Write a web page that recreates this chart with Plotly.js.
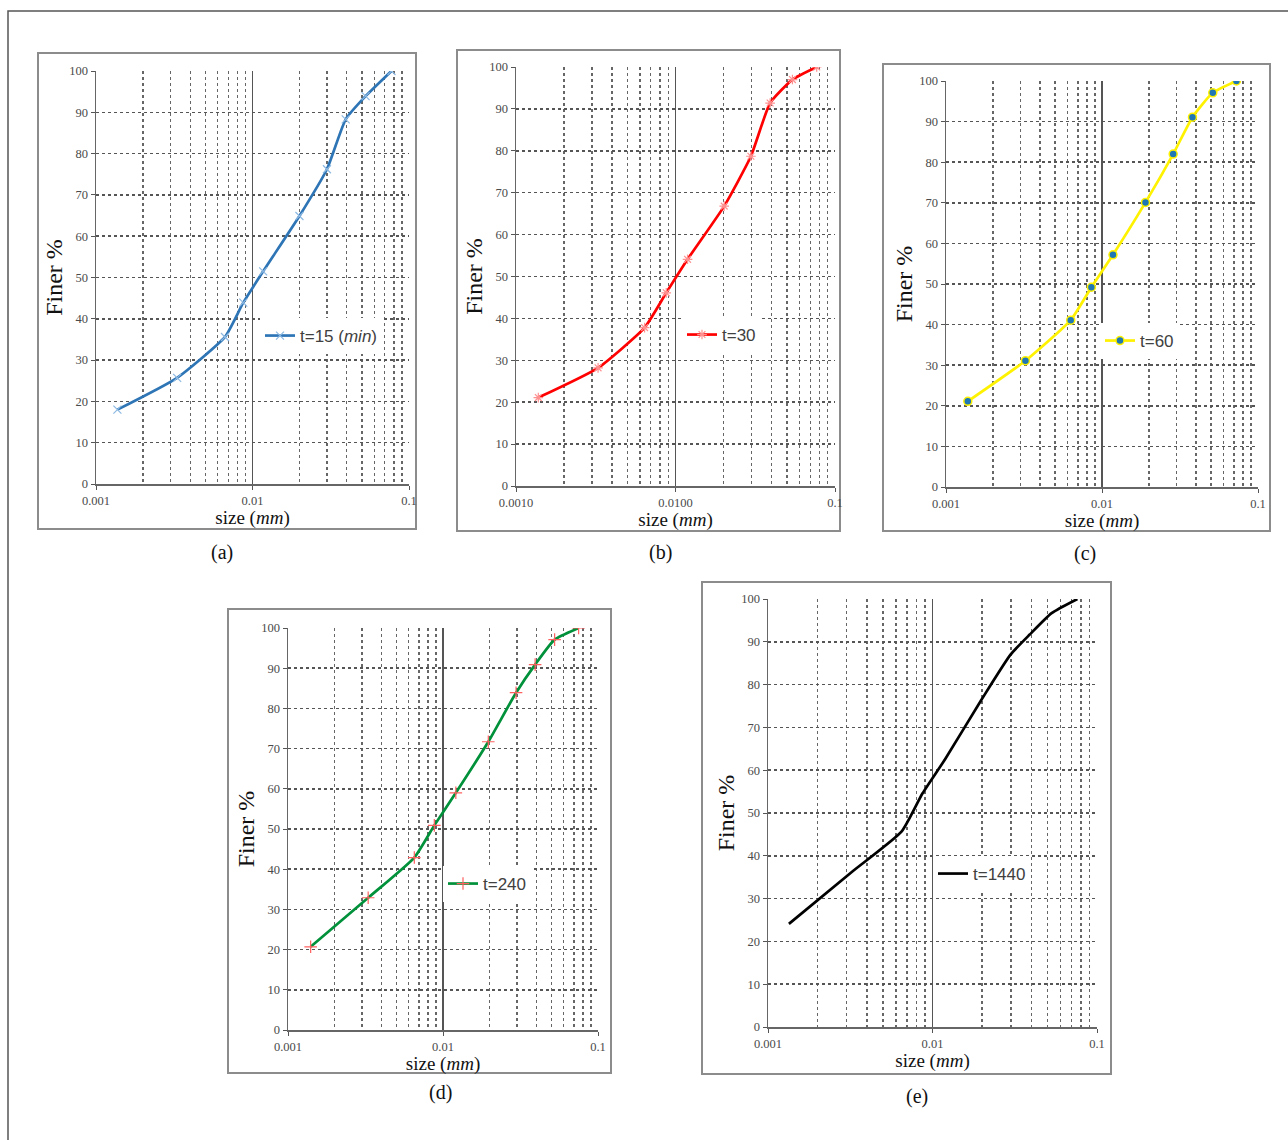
<!DOCTYPE html>
<html>
<head>
<meta charset="utf-8">
<script src="https://cdn.plot.ly/plotly-3.0.1.min.js"></script>
<style>html,body{margin:0;padding:0;background:#fff;}#chart{width:1288px;height:1140px;}</style>
</head>
<body>
<div id="chart"></div>
<script>
// ---------- data ----------
const sizesA = [0.00137, 0.0033, 0.00667, 0.00873, 0.0117, 0.01995, 0.0299, 0.0394, 0.0528, 0.0773];
const finerA = [18.0, 25.7, 35.6, 43.9, 51.5, 64.9, 76.2, 88.3, 93.9, 100];

const sizesB = [0.00138, 0.00327, 0.0064, 0.00875, 0.0119, 0.0202, 0.0297, 0.0392, 0.0541, 0.0768];
const finerB = [21.1, 28.2, 37.8, 46.1, 54.1, 66.8, 78.7, 91.4, 97.0, 100];

const sizesC = [0.00138, 0.00323, 0.0063, 0.00855, 0.01176, 0.019, 0.0286, 0.038, 0.0513, 0.0727];
const finerC = [21.1, 31.1, 41.1, 49.2, 57.2, 70.1, 82.0, 91.1, 97.1, 100];

const sizesD = [0.0014, 0.00329, 0.00653, 0.00879, 0.0121, 0.0196, 0.0296, 0.0393, 0.0525, 0.075];
const finerD = [20.7, 32.9, 42.9, 50.9, 59.0, 71.7, 83.9, 90.9, 97.1, 100];

const sizesE = [0.00134, 0.0033, 0.0065, 0.0087, 0.0119, 0.0198, 0.0298, 0.039, 0.053, 0.076];
const finerE = [24.1, 36.5, 45.7, 54.6, 62.5, 76.4, 87.0, 91.7, 96.7, 100];

const seriesNames = ['t=15 (<i>min</i>)', 't=30', 't=60', 't=240', 't=1440'];
const panelLabels = ['(a)', '(b)', '(c)', '(d)', '(e)'];
const majorTickVals = [0.001, 0.01, 0.1];
const tickTextStd = ['0.001', '0.01', '0.1'];
const tickTextB = ['0.0010', '0.0100', '0.1'];
const minorTickVals = [0.002,0.003,0.004,0.005,0.006,0.007,0.008,0.009,0.02,0.03,0.04,0.05,0.06,0.07,0.08,0.09];
const yTitle = 'Finer %';
const xTitle = 'size (<i>mm</i>)';

// ---------- layout geometry (pixels) ----------
const W = 1288, H = 1140;
const plots = [ // plot area [x0, y0, x1, y1]
  [96, 71, 409, 484],
  [516, 67, 835, 486],
  [946, 81, 1258, 487],
  [288, 628, 598, 1030],
  [768, 599, 1097, 1027]
];
const frames = [
  [38, 53, 416, 529],
  [457, 50, 840, 531],
  [883, 64, 1270, 531],
  [228, 609, 611, 1073],
  [702, 582, 1111, 1074]
];
const labelPos = [[222, 552], [660, 552], [1085, 553], [440, 1092], [917, 1096]];
const legendPos = [[260, 336], [682, 335], [1100, 341], [443, 884], [933, 874]];

const px = x => x / W;
const py = y => 1 - y / H;

const sizes = [sizesA, sizesB, sizesC, sizesD, sizesE];
const finer = [finerA, finerB, finerC, finerD, finerE];
const lineColors = ['#2E75B6', '#FF0000', '#FFF200', '#00913A', '#000000'];
const markers = [
  {symbol: 'x-thin-open', size: 8, color: '#8DB9E2', line: {width: 1.2, color: '#8DB9E2'}},
  {symbol: 'asterisk-open', size: 8, color: '#FF9090', line: {width: 1.2, color: '#FF9090'}},
  {symbol: 'circle', size: 8, color: '#1F77B4', line: {width: 1.5, color: '#FFF200'}},
  {symbol: 'cross-thin-open', size: 9, color: '#FF6060', line: {width: 1.2, color: '#FF6060'}},
  null
];

const traces = [];
const layout = {
  width: W, height: H,
  margin: {l: 0, r: 0, t: 0, b: 0},
  paper_bgcolor: '#ffffff',
  plot_bgcolor: '#ffffff',
  showlegend: true,
  shapes: [],
  annotations: []
};

// outer border (top & left visible)
layout.shapes.push({type: 'rect', xref: 'paper', yref: 'paper',
  x0: px(8), x1: px(1300), y0: py(1150), y1: py(11),
  line: {color: '#555', width: 1.5}, fillcolor: 'rgba(0,0,0,0)', layer: 'below'});

for (let i = 0; i < 5; i++) {
  const n = i === 0 ? '' : String(i + 1);
  const p = plots[i], f = frames[i];
  const legName = i === 0 ? 'legend' : 'legend' + (i + 1);
  const tr = {
    type: 'scatter',
    x: sizes[i], y: finer[i],
    xaxis: 'x' + n, yaxis: 'y' + n,
    name: seriesNames[i],
    legend: legName,
    mode: markers[i] ? 'lines+markers' : 'lines',
    line: {color: lineColors[i], width: 2.7, shape: 'spline', smoothing: 0.5},
    hoverinfo: 'x+y'
  };
  if (markers[i]) tr.marker = markers[i];
  traces.push(tr);

  layout['xaxis' + n] = {
    type: 'log',
    domain: [px(p[0]), px(p[2])],
    range: [-3, -1],
    anchor: 'y' + n,
    tickmode: 'array',
    tickvals: majorTickVals,
    ticktext: i === 1 ? tickTextB : tickTextStd,
    tickfont: {family: 'Liberation Serif', size: 12.5, color: '#4a4a4a'},
    ticks: 'outside', ticklen: 4, tickcolor: '#555',
    showgrid: true, gridcolor: '#555', gridwidth: 1.3,
    minor: {tickmode: 'array', tickvals: minorTickVals, showgrid: true,
            gridcolor: '#666', griddash: 'dot', gridwidth: 1.4, ticks: ''},
    showline: true, linecolor: '#666', linewidth: 1.5,
    zeroline: false,
    title: {text: xTitle, font: {family: 'Liberation Serif', size: 19, color: '#111'}, standoff: 0},
    automargin: false,
    fixedrange: true
  };
  layout['yaxis' + n] = {
    domain: [py(p[3]), py(p[1])],
    range: [0, 100],
    anchor: 'x' + n,
    dtick: 10,
    tickfont: {family: 'Liberation Serif', size: 12.5, color: '#4a4a4a'},
    ticks: 'outside', ticklen: 4, tickcolor: '#555',
    showgrid: true, gridcolor: '#555', griddash: 'dot', gridwidth: 1.5,
    showline: true, linecolor: '#666', linewidth: 1.5,
    zeroline: false,
    title: {text: yTitle, font: {family: 'Liberation Serif', size: 24, color: '#111'}, standoff: 0},
    automargin: false,
    fixedrange: true
  };

  layout[legName] = {
    x: px(legendPos[i][0]), y: py(legendPos[i][1]),
    xref: 'paper', yref: 'paper',
    xanchor: 'left', yanchor: 'middle',
    bgcolor: '#ffffff', borderwidth: 0,
    font: {family: 'Liberation Sans', size: 17, color: '#404040'},
    itemwidth: 30,
    tracegroupgap: 0
  };

  // panel frame
  layout.shapes.push({type: 'rect', xref: 'paper', yref: 'paper',
    x0: px(f[0]), x1: px(f[2]), y0: py(f[3]), y1: py(f[1]),
    line: {color: '#8c8c8c', width: 2}, fillcolor: 'rgba(0,0,0,0)', layer: 'below'});

  layout.annotations.push({xref: 'paper', yref: 'paper',
    x: px(labelPos[i][0]), y: py(labelPos[i][1]),
    text: panelLabels[i], showarrow: false,
    xanchor: 'center', yanchor: 'middle',
    font: {family: 'Liberation Serif', size: 20, color: '#111'}});
}

Plotly.newPlot('chart', traces, layout, {staticPlot: true, displayModeBar: false});
</script>
</body>
</html>
